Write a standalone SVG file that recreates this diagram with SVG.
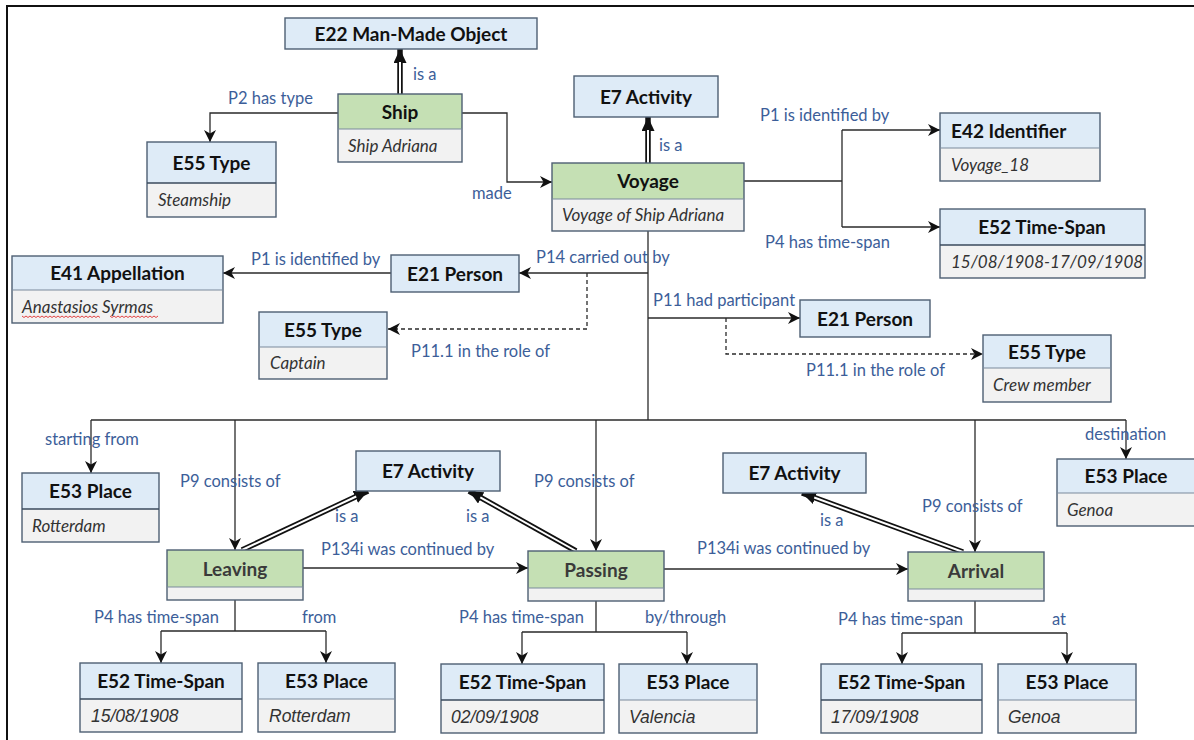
<svg xmlns="http://www.w3.org/2000/svg" width="1194" height="740" viewBox="0 0 1194 740">
<defs>
<marker id="arr" markerUnits="userSpaceOnUse" markerWidth="13" markerHeight="12" refX="12" refY="6" orient="auto">
<path d="M0,0 L12,6 L0,12 L3.5,6 z" fill="#111"/>
</marker>
<marker id="arrD" markerUnits="userSpaceOnUse" markerWidth="15" markerHeight="13" refX="14" refY="6.5" orient="auto">
<path d="M0,0 L14,6.5 L0,13 z" fill="#111"/>
</marker>
<style>
.hb{fill:#DEEBF7}
.hg{fill:#C5E0B4}
.bd{fill:#F2F2F2}
.ol{fill:none;stroke:#4E5F73;stroke-width:1.4}
.dv{stroke:#3A4A5C;stroke-width:1.6}
.th{font-family:Lato,"Liberation Sans",sans-serif;font-weight:bold;font-size:19px;fill:#111;text-anchor:middle}
.tg{fill:#3A3A3A}
.ti{font-family:Lato,"Liberation Sans",sans-serif;font-style:italic;font-size:17px;fill:#333}
.ta{font-family:"Liberation Sans",Arial,sans-serif;font-style:italic;font-size:17.5px;fill:#333}
.lb{font-family:Lato,"Liberation Sans",sans-serif;font-size:16.5px;fill:#3C5E99}
.cn{fill:none;stroke:#2A2A2A;stroke-width:1.3}
.ca{fill:none;stroke:#2A2A2A;stroke-width:1.3;marker-end:url(#arr)}
.cd{fill:none;stroke:#2A2A2A;stroke-width:1.3;stroke-dasharray:4 3;marker-end:url(#arr)}
.db{fill:none;stroke:#111;stroke-width:5.5;marker-end:url(#arrD)}
.dw{fill:none;stroke:#fff;stroke-width:2}
.sq{fill:none;stroke:#E03030;stroke-width:0.9}
</style>
</defs>
<rect x="0" y="0" width="1194" height="740" fill="#fff"/>
<path d="M7,745 V6 H1200" fill="none" stroke="#111" stroke-width="2"/>

<g id="connectors">
<path class="ca" d="M338,113 H210 V142"/>
<path class="ca" d="M462,113 H507 V182 H552"/>
<path class="cn" d="M744,181 H842 M842,130 V227"/>
<path class="ca" d="M842,130 H940"/>
<path class="ca" d="M842,227 H940"/>
<path class="cn" d="M648,231 V420"/>
<path class="ca" d="M648,273 H519"/>
<path class="ca" d="M391,273 H223"/>
<path class="cd" d="M587,273 V329 H388"/>
<path class="ca" d="M648,318 H800"/>
<path class="cd" d="M726,318 V354 H983"/>
<path class="cn" d="M91,420 H1126"/>
<path class="ca" d="M91,420 V473"/>
<path class="ca" d="M235,420 V550"/>
<path class="ca" d="M596,420 V551"/>
<path class="ca" d="M975,420 V552"/>
<path class="ca" d="M1126,420 V459"/>
<path class="ca" d="M303,568 H528"/>
<path class="ca" d="M664,569 H908"/>
<path class="cn" d="M235,600 V631 M161,631 H326"/>
<path class="ca" d="M161,631 V663"/>
<path class="ca" d="M326,631 V663"/>
<path class="cn" d="M596,601 V632 M522,632 H687"/>
<path class="ca" d="M522,632 V664"/>
<path class="ca" d="M687,632 V664"/>
<path class="cn" d="M975,601 V633 M902,633 H1067"/>
<path class="ca" d="M902,633 V664"/>
<path class="ca" d="M1067,633 V664"/>
<path class="db" d="M400,94 V49"/>
<path class="dw" d="M400,95 V62"/>
<path class="db" d="M648,163 V117"/>
<path class="dw" d="M648,164 V130"/>
<path class="db" d="M242,550 L368,491"/>
<path class="dw" d="M242,550 L356.2,496.5"/>
<path class="db" d="M576,551 L469,491"/>
<path class="dw" d="M576,551 L480.3,497.4"/>
<path class="db" d="M963,552 L802,493"/>
<path class="dw" d="M963,552 L814.2,497.5"/>
</g>

<g id="labels">
<text class="lb" x="413" y="80">is a</text>
<text class="lb" x="228" y="104">P2 has type</text>
<text class="lb" x="472" y="199">made</text>
<text class="lb" x="659" y="151">is a</text>
<text class="lb" x="760" y="121">P1 is identified by</text>
<text class="lb" x="765" y="248">P4 has time-span</text>
<text class="lb" x="251" y="265">P1 is identified by</text>
<text class="lb" x="536" y="263">P14 carried out by</text>
<text class="lb" x="411" y="357">P11.1 in the role of</text>
<text class="lb" x="653" y="306">P11 had participant</text>
<text class="lb" x="806" y="376">P11.1 in the role of</text>
<text class="lb" x="45" y="445">starting from</text>
<text class="lb" x="180" y="487">P9 consists of</text>
<text class="lb" x="534" y="487">P9 consists of</text>
<text class="lb" x="335" y="522">is a</text>
<text class="lb" x="466" y="522">is a</text>
<text class="lb" x="321" y="555">P134i was continued by</text>
<text class="lb" x="1085" y="440">destination</text>
<text class="lb" x="922" y="512">P9 consists of</text>
<text class="lb" x="820" y="526">is a</text>
<text class="lb" x="697" y="554">P134i was continued by</text>
<text class="lb" x="94" y="623">P4 has time-span</text>
<text class="lb" x="302" y="623">from</text>
<text class="lb" x="459" y="623">P4 has time-span</text>
<text class="lb" x="645" y="623">by/through</text>
<text class="lb" x="838" y="625">P4 has time-span</text>
<text class="lb" x="1052" y="625">at</text>
</g>

<g id="n-e22">
<rect class="hb" x="285" y="18" width="252" height="31"/>
<rect class="ol" x="285" y="18" width="252" height="31"/>
<text class="th" x="411" y="40.5">E22 Man-Made Object</text>
</g>

<g id="n-ship">
<rect class="hg" x="338" y="94" width="124" height="35"/>
<rect class="bd" x="338" y="129" width="124" height="33"/>
<rect class="ol" x="338" y="94" width="124" height="68"/>
<line class="dv" x1="338" y1="129" x2="462" y2="129" style="stroke:#7A8A9C;stroke-width:1.2"/>
<text class="th" x="400" y="118.5">Ship</text>
<text class="ti" x="348" y="151.5">Ship Adriana</text>
</g>

<g id="n-e55-steamship">
<rect class="hb" x="147" y="142" width="129" height="41"/>
<rect class="bd" x="147" y="183" width="129" height="34"/>
<rect class="ol" x="147" y="142" width="129" height="75"/>
<line class="dv" x1="147" y1="183" x2="276" y2="183"/>
<text class="th" x="211.5" y="169.5">E55 Type</text>
<text class="ti" x="158" y="206">Steamship</text>
</g>

<g id="n-e7-top">
<rect class="hb" x="574" y="76" width="144" height="41"/>
<rect class="ol" x="574" y="76" width="144" height="41"/>
<text class="th" x="646" y="103.5">E7 Activity</text>
</g>

<g id="n-voyage">
<rect class="hg" x="552" y="163" width="192" height="36"/>
<rect class="bd" x="552" y="199" width="192" height="32"/>
<rect class="ol" x="552" y="163" width="192" height="68"/>
<line class="dv" x1="552" y1="199" x2="744" y2="199" style="stroke:#7A8A9C;stroke-width:1.2"/>
<text class="th" x="648" y="188">Voyage</text>
<text class="ti" x="562" y="221">Voyage of Ship Adriana</text>
</g>

<g id="n-e42">
<rect class="hb" x="940" y="113" width="160" height="35"/>
<rect class="bd" x="940" y="148" width="160" height="33"/>
<rect class="ol" x="940" y="113" width="160" height="68"/>
<line class="dv" x1="940" y1="148" x2="1100" y2="148" style="stroke:#7A8A9C;stroke-width:1.2"/>
<text class="th" x="951" y="137.5" style="text-anchor:start">E42 Identifier</text>
<text class="ti" x="951" y="170.5">Voyage_18</text>
</g>

<g id="n-e52-top">
<rect class="hb" x="940" y="209" width="205" height="36"/>
<rect class="bd" x="940" y="245" width="205" height="33"/>
<rect class="ol" x="940" y="209" width="205" height="69"/>
<line class="dv" x1="940" y1="245" x2="1145" y2="245"/>
<text class="th" x="1042" y="234">E52 Time-Span</text>
<text class="ti" x="951" y="267.5">15/08/1908-17/09/1908</text>
</g>

<g id="n-e41">
<rect class="hb" x="12" y="256" width="211" height="34"/>
<rect class="bd" x="12" y="290" width="211" height="33"/>
<rect class="ol" x="12" y="256" width="211" height="67"/>
<line class="dv" x1="12" y1="290" x2="223" y2="290" style="stroke:#7A8A9C;stroke-width:1.2"/>
<text class="th" x="117.5" y="280">E41 Appellation</text>
<text class="ti" x="22" y="312.5">Anastasios Syrmas</text>
<path class="sq" d="M22,316 l2,1.5 l2,-1.5 l2,1.5 l2,-1.5 l2,1.5 l2,-1.5 l2,1.5 l2,-1.5 l2,1.5 l2,-1.5 l2,1.5 l2,-1.5 l2,1.5 l2,-1.5 l2,1.5 l2,-1.5 l2,1.5 l2,-1.5 l2,1.5 l2,-1.5 l2,1.5 l2,-1.5 l2,1.5 l2,-1.5 l2,1.5 l2,-1.5 l2,1.5 l2,-1.5 l2,1.5 l2,-1.5 l2,1.5 l2,-1.5 l2,1.5 l2,-1.5 l2,1.5 l2,-1.5 l2,1.5 l2,-1.5 l2,1.5"/>
<path class="sq" d="M110,316 l2,1.5 l2,-1.5 l2,1.5 l2,-1.5 l2,1.5 l2,-1.5 l2,1.5 l2,-1.5 l2,1.5 l2,-1.5 l2,1.5 l2,-1.5 l2,1.5 l2,-1.5 l2,1.5 l2,-1.5 l2,1.5 l2,-1.5 l2,1.5 l2,-1.5 l2,1.5 l2,-1.5 l2,1.5 l2,-1.5"/>
</g>

<g id="n-e21-left">
<rect class="hb" x="391" y="255" width="128" height="37"/>
<rect class="ol" x="391" y="255" width="128" height="37"/>
<text class="th" x="455" y="280.5">E21 Person</text>
</g>

<g id="n-e55-captain">
<rect class="hb" x="259" y="312" width="128" height="35"/>
<rect class="bd" x="259" y="347" width="128" height="32"/>
<rect class="ol" x="259" y="312" width="128" height="67"/>
<line class="dv" x1="259" y1="347" x2="387" y2="347" style="stroke:#7A8A9C;stroke-width:1.2"/>
<text class="th" x="323" y="336.5">E55 Type</text>
<text class="ti" x="270" y="369">Captain</text>
</g>

<g id="n-e21-right">
<rect class="hb" x="800" y="300" width="130" height="37"/>
<rect class="ol" x="800" y="300" width="130" height="37"/>
<text class="th" x="865" y="325.5">E21 Person</text>
</g>

<g id="n-e55-crew">
<rect class="hb" x="983" y="335" width="128" height="33"/>
<rect class="bd" x="983" y="368" width="128" height="34"/>
<rect class="ol" x="983" y="335" width="128" height="67"/>
<line class="dv" x1="983" y1="368" x2="1111" y2="368" style="stroke:#7A8A9C;stroke-width:1.2"/>
<text class="th" x="1047" y="358.5">E55 Type</text>
<text class="ti" x="993" y="391">Crew member</text>
</g>

<g id="n-e53-start">
<rect class="hb" x="22" y="473" width="137" height="36"/>
<rect class="bd" x="22" y="509" width="137" height="33"/>
<rect class="ol" x="22" y="473" width="137" height="69"/>
<line class="dv" x1="22" y1="509" x2="159" y2="509"/>
<text class="th" x="90.5" y="498">E53 Place</text>
<text class="ti" x="32" y="531.5">Rotterdam</text>
</g>

<g id="n-e7-left">
<rect class="hb" x="356" y="451" width="144" height="40"/>
<rect class="ol" x="356" y="451" width="144" height="40"/>
<text class="th" x="428" y="478">E7 Activity</text>
</g>

<g id="n-e7-right">
<rect class="hb" x="723" y="453" width="143" height="40"/>
<rect class="ol" x="723" y="453" width="143" height="40"/>
<text class="th" x="794.5" y="480">E7 Activity</text>
</g>

<g id="n-e53-destination">
<rect class="hb" x="1057" y="459" width="143" height="34"/>
<rect class="bd" x="1057" y="493" width="143" height="33"/>
<rect class="ol" x="1057" y="459" width="143" height="67"/>
<line class="dv" x1="1057" y1="493" x2="1200" y2="493" style="stroke:#7A8A9C;stroke-width:1.2"/>
<text class="th" x="1126" y="483">E53 Place</text>
<text class="ti" x="1067" y="515.5">Genoa</text>
</g>

<g id="n-leaving">
<rect class="hg" x="167" y="550" width="136" height="37"/>
<rect class="bd" x="167" y="587" width="136" height="13"/>
<rect class="ol" x="167" y="550" width="136" height="50"/>
<line class="dv" x1="167" y1="587" x2="303" y2="587" style="stroke:#7A8A9C;stroke-width:1.2"/>
<text class="th tg" x="235" y="575.5">Leaving</text>
</g>

<g id="n-passing">
<rect class="hg" x="528" y="551" width="136" height="37"/>
<rect class="bd" x="528" y="588" width="136" height="13"/>
<rect class="ol" x="528" y="551" width="136" height="50"/>
<line class="dv" x1="528" y1="588" x2="664" y2="588" style="stroke:#7A8A9C;stroke-width:1.2"/>
<text class="th tg" x="596" y="576.5">Passing</text>
</g>

<g id="n-arrival">
<rect class="hg" x="908" y="552" width="136" height="37"/>
<rect class="bd" x="908" y="589" width="136" height="12"/>
<rect class="ol" x="908" y="552" width="136" height="49"/>
<line class="dv" x1="908" y1="589" x2="1044" y2="589" style="stroke:#7A8A9C;stroke-width:1.2"/>
<text class="th tg" x="976" y="577.5">Arrival</text>
</g>

<g id="n-e52-leaving">
<rect class="hb" x="80" y="663" width="162" height="36"/>
<rect class="bd" x="80" y="699" width="162" height="33"/>
<rect class="ol" x="80" y="663" width="162" height="69"/>
<line class="dv" x1="80" y1="699" x2="242" y2="699"/>
<text class="th" x="161" y="688">E52 Time-Span</text>
<text class="ta" x="91" y="722">15/08/1908</text>
</g>

<g id="n-e53-leaving">
<rect class="hb" x="258" y="663" width="137" height="36"/>
<rect class="bd" x="258" y="699" width="137" height="33"/>
<rect class="ol" x="258" y="663" width="137" height="69"/>
<line class="dv" x1="258" y1="699" x2="395" y2="699" style="stroke:#7A8A9C;stroke-width:1.2"/>
<text class="th" x="326.5" y="688">E53 Place</text>
<text class="ta" x="269" y="722">Rotterdam</text>
</g>

<g id="n-e52-passing">
<rect class="hb" x="441" y="664" width="163" height="36"/>
<rect class="bd" x="441" y="700" width="163" height="33"/>
<rect class="ol" x="441" y="664" width="163" height="69"/>
<line class="dv" x1="441" y1="700" x2="604" y2="700"/>
<text class="th" x="522.5" y="689">E52 Time-Span</text>
<text class="ta" x="451" y="723">02/09/1908</text>
</g>

<g id="n-e53-passing">
<rect class="hb" x="619" y="664" width="138" height="36"/>
<rect class="bd" x="619" y="700" width="138" height="33"/>
<rect class="ol" x="619" y="664" width="138" height="69"/>
<line class="dv" x1="619" y1="700" x2="757" y2="700" style="stroke:#7A8A9C;stroke-width:1.2"/>
<text class="th" x="688" y="689">E53 Place</text>
<text class="ta" x="629" y="723">Valencia</text>
</g>

<g id="n-e52-arrival">
<rect class="hb" x="821" y="664" width="161" height="36"/>
<rect class="bd" x="821" y="700" width="161" height="33"/>
<rect class="ol" x="821" y="664" width="161" height="69"/>
<line class="dv" x1="821" y1="700" x2="982" y2="700"/>
<text class="th" x="901.5" y="689">E52 Time-Span</text>
<text class="ta" x="831" y="723">17/09/1908</text>
</g>

<g id="n-e53-arrival">
<rect class="hb" x="998" y="664" width="138" height="36"/>
<rect class="bd" x="998" y="700" width="138" height="33"/>
<rect class="ol" x="998" y="664" width="138" height="69"/>
<line class="dv" x1="998" y1="700" x2="1136" y2="700" style="stroke:#7A8A9C;stroke-width:1.2"/>
<text class="th" x="1067" y="689">E53 Place</text>
<text class="ta" x="1008" y="723">Genoa</text>
</g>
</svg>
